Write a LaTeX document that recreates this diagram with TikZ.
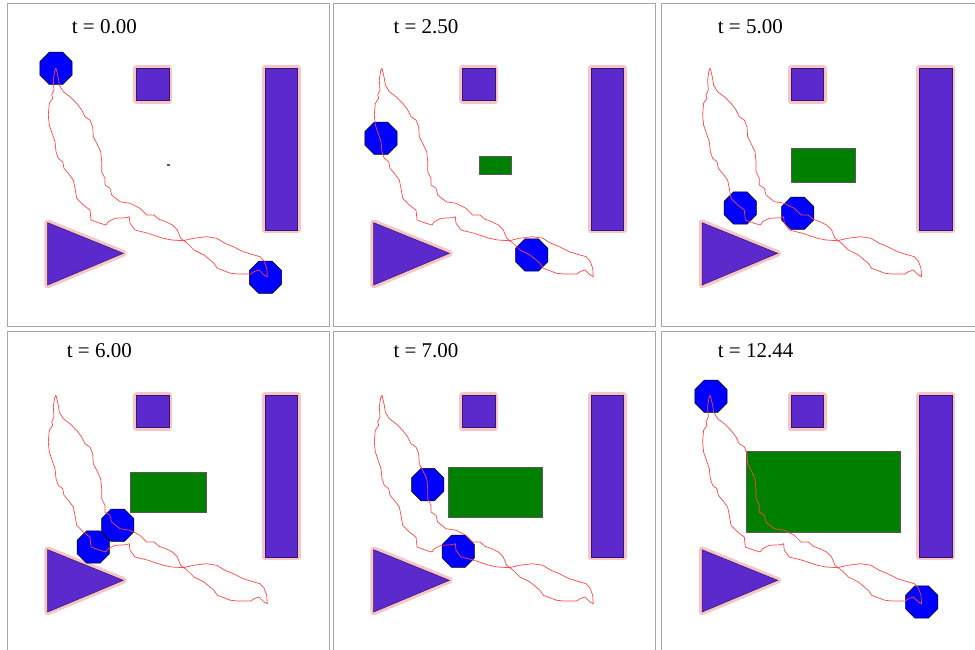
\documentclass[tikz,border=0pt]{standalone}
\usepackage{fontspec}
\setmainfont{Liberation Serif}
\usetikzlibrary{shapes.geometric}
\definecolor{obst}{RGB}{92,41,204}
\definecolor{halo}{RGB}{246,196,196}
\definecolor{robotblue}{RGB}{0,0,255}
\definecolor{goal}{RGB}{0,128,0}
\definecolor{framegray}{RGB}{165,165,165}
\definecolor{trajred}{RGB}{255,70,70}
\tikzset{
  panelframe/.style={draw=framegray, line width=1},
  halostroke/.style={draw=halo, line width=6.5, line join=round},
  obstfill/.style={fill=obst, draw=obst!55!black, line width=0.5},
  growrect/.style={fill=goal, draw=black!65, line width=0.6},
  robot/.style={regular polygon, regular polygon sides=8, minimum size=35, inner sep=0pt,
                fill=robotblue, draw=black, line width=0.5},
  traj/.style={draw=trajred, line width=0.7, line join=round},
  titletext/.style={anchor=base west, inner sep=0pt, font=\fontsize{21}{25}\selectfont},
}
\newcommand\trajpath{(56,68.3) -- (54.7,70.5) -- (53.3,80) -- (54,90) -- (51.7,95) -- (52.7,98.3) -- (49.3,103.3) -- (48.3,115) -- (49.3,125) -- (52.7,135) -- (55,141.7) -- (56,151.7) -- (58.3,158.3) -- (62.7,161.7) -- (64,168.3) -- (68.3,173.3) -- (73.3,180) -- (75,188.3) -- (76.7,198.3) -- (83.3,205) -- (90,210) -- (91,220) -- (100,223.3) -- (106,225) -- (108.3,221.7) -- (115,218.3) -- (126.7,217.7) -- (129.3,216.7) -- (130,223.3) -- (135,230) -- (141.7,231.7) -- (148.3,233.3) -- (158.3,236.7) -- (163.3,238.3) -- (171.7,240) -- (183.3,240.7) -- (193.3,238.3) -- (206.7,236.7) -- (216.7,238.3) -- (225,243.3) -- (233.3,246.7) -- (243.3,251.7) -- (250.7,254) -- (260,256.7) -- (264,261) -- (266.7,268.3) -- (267.3,276.7) -- (264,275) -- (259,270) -- (254,271.7) -- (250.7,274) -- (237.3,274) -- (230.7,273.3) -- (217.3,268.3) -- (214,263.3) -- (204,255) -- (194,250) -- (187.3,243.3) -- (180.7,238.3) -- (177.3,230) -- (172.3,225) -- (165.7,221.7) -- (159,219.3) -- (154,215) -- (146.7,215) -- (140,208.3) -- (130,203.3) -- (120,201.7) -- (111.7,195) -- (110,188.3) -- (105,185) -- (105,178.3) -- (101.7,171.7) -- (101.7,161.7) -- (100.7,151.7) -- (96.7,143.3) -- (93.3,136.7) -- (92.7,126.7) -- (90,120) -- (85,116.7) -- (81.7,110) -- (76.7,103.3) -- (70,96.7) -- (63.3,91.7) -- (59.3,85) -- (58.3,78.3) -- (56,68.3)}
\newcommand\obstacles{%
  \draw[panelframe] (7.3,4) rectangle (329.3,326);
  \draw[halostroke] (136.7,68.7) rectangle (169,100.7);
  \draw[halostroke] (265,68.7) rectangle (297.7,230);
  \draw[halostroke] (47.7,222.7) -- (47.7,285) -- (123.3,253.3) -- cycle;
  \draw[obstfill] (136.7,68.7) rectangle (169,100.7);
  \draw[obstfill] (265,68.7) rectangle (297.7,230);
  \draw[obstfill] (47.7,222.7) -- (47.7,285) -- (123.3,253.3) -- cycle;
}
\begin{document}
\begin{tikzpicture}[x=1pt, y=-1pt]
\useasboundingbox (0,0) rectangle (975,650);
\clip (0,0) rectangle (975,650);
\fill[white] (0,0) rectangle (975,650);
% panel 1
\begin{scope}
  \obstacles
  \draw[growrect] (167.7,164.3) rectangle (169.1,165.7);
  \node[robot] (r1a) at (56,68.3) {};
  \node[robot] (r1b) at (265.5,277.3) {};
  \draw[traj] \trajpath;
\end{scope}
% panel 2
\begin{scope}[shift={(326,0)}]
  \obstacles
  \draw[growrect] (153,156) rectangle (185.7,174);
  \node[robot] (r2a) at (55,138.3) {};
  \node[robot] (r2b) at (205.7,255) {};
  \draw[traj] \trajpath;
\end{scope}
% panel 3
\begin{scope}[shift={(654.3,0)}]
  \obstacles
  \draw[growrect] (136.7,148.7) rectangle (200.7,182.7);
  \node[robot] (r3a) at (86,208) {};
  \node[robot] (r3b) at (143.4,213.3) {};
  \draw[traj] \trajpath;
\end{scope}
% panel 4
\begin{scope}[shift={(0,327)}]
  \obstacles
  \draw[growrect] (130.3,145) rectangle (206.3,185.3);
  \node[robot] (r4a) at (117.7,198.3) {};
  \node[robot] (r4b) at (93.3,220) {};
  \draw[traj] \trajpath;
\end{scope}
% panel 5
\begin{scope}[shift={(326,327)}]
  \obstacles
  \draw[growrect] (122.3,140) rectangle (216.7,190);
  \node[robot] (r5a) at (101.7,157.6) {};
  \node[robot] (r5b) at (132.3,224.3) {};
  \draw[traj] \trajpath;
\end{scope}
% panel 6
\begin{scope}[shift={(654.3,327)}]
  \obstacles
  \draw[growrect] (92.3,124.3) rectangle (246,205.3);
  \node[robot] (r6a) at (56.7,69.3) {};
  \node[robot] (r6b) at (267.4,275) {};
  \draw[traj] \trajpath;
\end{scope}
% titles
\node[titletext] (t1) at (71.7,33.3) {t = 0.00};
\node[titletext] (t2) at (393.3,33.3) {t = 2.50};
\node[titletext] (t3) at (717.7,33.3) {t = 5.00};
\node[titletext] (t4) at (66.7,357.3) {t = 6.00};
\node[titletext] (t5) at (393.3,357.3) {t = 7.00};
\node[titletext] (t6) at (717.7,357.3) {t = 12.44};
\end{tikzpicture}
\end{document}
